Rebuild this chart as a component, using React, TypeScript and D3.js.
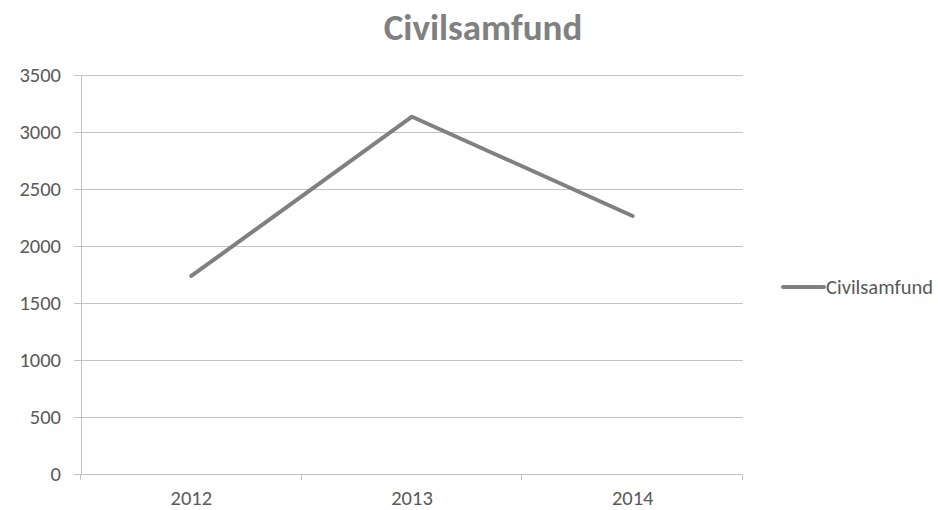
import * as d3 from 'd3'
import { useEffect, useRef } from 'react'

const title = 'Civilsamfund'
const seriesName = 'Civilsamfund'
const years = ['2012', '2013', '2014']
const values = [1737, 3134, 2263]
const yTicks = [0, 500, 1000, 1500, 2000, 2500, 3000, 3500]

const W = 938
const H = 510
const margin = { top: 75, right: 195, bottom: 36, left: 81 }
const font = 'Carlito, "Open Sans", "Liberation Sans", sans-serif'
const labelSize = 20.5

export default function App() {
  const ref = useRef<SVGSVGElement>(null)

  useEffect(() => {
    const svg = d3.select(ref.current)
    svg.selectAll('*').remove()
    const plotW = W - margin.left - margin.right
    const plotH = H - margin.top - margin.bottom

    const x = d3.scaleBand().domain(years).range([0, plotW]).padding(0)
    const y = d3.scaleLinear().domain([0, 3500]).range([plotH, 0])

    svg
      .append('text')
      .attr('x', 483)
      .attr('y', 40)
      .attr('text-anchor', 'middle')
      .attr('font-family', font)
      .attr('font-weight', 'bold')
      .attr('font-size', 37)
      .attr('fill', '#808080')
      .text(title)

    const g = svg.append('g').attr('transform', `translate(${margin.left},${margin.top})`)

    // gridlines + y ticks
    g.selectAll('line.grid')
      .data(yTicks)
      .enter()
      .append('line')
      .attr('x1', -7)
      .attr('x2', plotW)
      .attr('y1', (d) => Math.round(y(d)) + 0.5)
      .attr('y2', (d) => Math.round(y(d)) + 0.5)
      .attr('stroke', '#c3c3c3')
      .attr('stroke-width', 1)

    g.selectAll('text.ylab')
      .data(yTicks)
      .enter()
      .append('text')
      .attr('x', -20)
      .attr('y', (d) => y(d))
      .attr('dy', '0.35em')
      .attr('text-anchor', 'end')
      .attr('font-family', font)
      .attr('font-size', labelSize)
      .attr('fill', '#595959')
      .text((d) => d)

    // y axis line
    g.append('line')
      .attr('x1', 0.5)
      .attr('x2', 0.5)
      .attr('y1', 0)
      .attr('y2', plotH)
      .attr('stroke', '#c3c3c3')

    // x ticks at band edges
    const edges = years.map((d) => x(d)!).concat([plotW])
    g.selectAll('line.xtick')
      .data(edges)
      .enter()
      .append('line')
      .attr('x1', (d) => Math.round(d) - 0.5)
      .attr('x2', (d) => Math.round(d) - 0.5)
      .attr('y1', plotH)
      .attr('y2', plotH + 6)
      .attr('stroke', '#c3c3c3')

    g.selectAll('text.xlab')
      .data(years)
      .enter()
      .append('text')
      .attr('x', (d) => x(d)! + x.bandwidth() / 2)
      .attr('y', plotH + 31)
      .attr('text-anchor', 'middle')
      .attr('font-family', font)
      .attr('font-size', labelSize)
      .attr('fill', '#595959')
      .text((d) => d)

    const line = d3
      .line<number>()
      .x((_, i) => x(years[i])! + x.bandwidth() / 2)
      .y((d) => y(d))

    g.append('path')
      .datum(values)
      .attr('d', line)
      .attr('fill', 'none')
      .attr('stroke', '#808080')
      .attr('stroke-width', 4)
      .attr('stroke-linecap', 'round')
      .attr('stroke-linejoin', 'round')

    // legend
    const lg = svg.append('g').attr('transform', 'translate(781,287)')
    lg.append('line')
      .attr('x1', 2)
      .attr('x2', 43)
      .attr('y1', 0)
      .attr('y2', 0)
      .attr('stroke', '#808080')
      .attr('stroke-width', 4)
      .attr('stroke-linecap', 'round')
    lg.append('text')
      .attr('x', 45)
      .attr('y', 0)
      .attr('dy', '0.35em')
      .attr('font-family', font)
      .attr('font-size', labelSize)
      .attr('fill', '#595959')
      .text(seriesName)
  }, [])

  return (
    <svg
      ref={ref}
      width={W}
      height={H}
      style={{ position: 'absolute', left: 0, top: 0, background: '#fff' }}
    />
  )
}
